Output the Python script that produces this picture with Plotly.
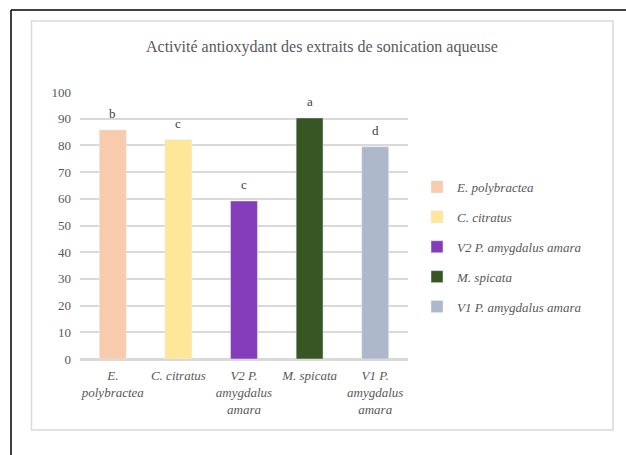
import plotly.graph_objects as go

# Data
categories = ["E. polybractea", "C. citratus", "V2 P. amygdalus amara",
              "M. spicata", "V1 P. amygdalus amara"]
tick_text = ["E.<br>polybractea", "C. citratus", "V2 P.<br>amygdalus<br>amara",
             "M. spicata", "V1 P.<br>amygdalus<br>amara"]
values = [85.8, 82.1, 59.2, 90.3, 79.5]
letters = ["b", "c", "c", "a", "d"]
colors = ["#F8CBAD", "#FFE699", "#843CBA", "#375623", "#ADB9CA"]

W, H = 626, 455
L, R, T, B = 80, 218, 92, 96
pw, ph = W - L - R, H - T - B

def px_x(x):
    return (x - L) / pw

def px_y(y):
    return (H - B - y) / ph

font_fam = "Liberation Serif"
grey = "#595959"

fig = go.Figure()
for i, (cat, v, c) in enumerate(zip(categories, values, colors)):
    fig.add_trace(go.Bar(
        x=[cat], y=[v], name=cat, marker_color=c, width=0.41,
        legendgroup=str(i), hoverinfo="x+y",
    ))

annotations = []
for cat, v, lt in zip(categories, values, letters):
    annotations.append(dict(
        x=cat, y=v, text=lt, showarrow=False, yanchor="bottom", yshift=7,
        font=dict(family=font_fam, size=13, color="#404040"),
    ))
annotations.append(dict(
    xref="paper", yref="paper", x=px_x(322), y=px_y(47),
    text="Activité antioxydant des extraits de sonication aqueuse",
    showarrow=False, xanchor="center", yanchor="middle",
    font=dict(family=font_fam, size=16, color=grey),
))

shapes = [
    # outer frame (left and top edges)
    dict(type="line", xref="paper", yref="paper",
         x0=px_x(11), y0=px_y(10), x1=px_x(11), y1=px_y(460),
         line=dict(color="#000000", width=1.5)),
    dict(type="line", xref="paper", yref="paper",
         x0=px_x(11), y0=px_y(10), x1=px_x(630), y1=px_y(10),
         line=dict(color="#000000", width=1.5)),
    # chart area border
    dict(type="rect", xref="paper", yref="paper",
         x0=px_x(31.5), y0=px_y(21), x1=px_x(613), y1=px_y(430),
         line=dict(color="#D9D9D9", width=1.5), layer="below"),
]

fig.update_layout(
    width=W, height=H,
    margin=dict(l=L, r=R, t=T, b=B),
    paper_bgcolor="white", plot_bgcolor="white",
    barmode="overlay",
    showlegend=True,
    legend=dict(
        x=px_x(417), y=px_y(172), xanchor="left", yanchor="top",
        font=dict(family=font_fam, size=13, color=grey, style="italic"),
        tracegroupgap=10, bgcolor="rgba(0,0,0,0)",
    ),
    annotations=annotations,
    shapes=shapes,
    xaxis=dict(
        tickmode="array", tickvals=categories, ticktext=tick_text,
        tickfont=dict(family=font_fam, size=13, color=grey, style="italic"),
        showgrid=False, showline=True, linecolor="#D9D9D9", linewidth=1.5,
        ticks="", ticklabelstandoff=4,
    ),
    yaxis=dict(
        range=[0, 100], dtick=10, showgrid=True, gridcolor="#D9D9D9",
        gridwidth=1.5, zeroline=True, zerolinecolor="#D9D9D9", zerolinewidth=1.5,
        tickfont=dict(family=font_fam, size=13, color=grey),
        ticklabelstandoff=8,
    ),
)

fig.write_html("out.html")
